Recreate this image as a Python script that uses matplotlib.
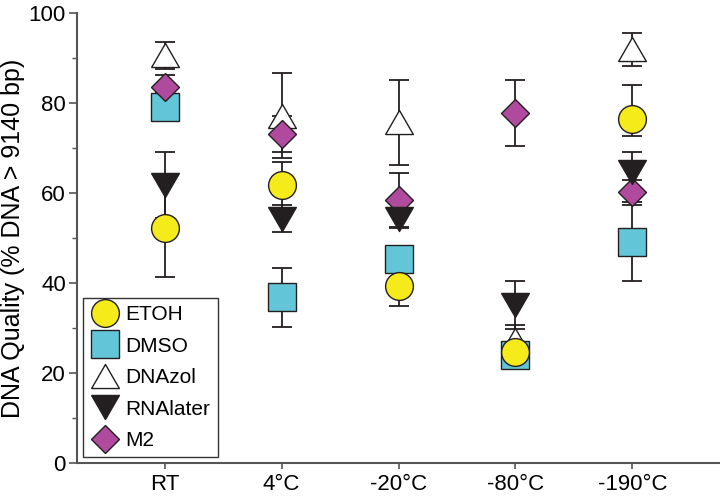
import matplotlib
matplotlib.use("Agg")
import matplotlib.pyplot as plt
from matplotlib.ticker import MultipleLocator

plt.rcParams['font.family'] = ['Liberation Sans', 'DejaVu Sans']

# 数据
conditions = ['RT', '4°C', '-20°C', '-80°C', '-190°C']

etoh = [52.2, 61.8, 39.3, 24.7, 76.6]
etoh_lo = [10.9, 5.1, 4.4, 2.0, 3.9]
etoh_hi = [10.9, 5.1, 4.4, 2.0, 7.4]

dmso = [79.3, 36.9, 45.4, 24.0, 49.2]
dmso_err = [3.0, 6.6, 3.0, 2.0, 8.8]

dnazol = [90.7, 77.3, 75.8, 27.3, 92.0]
dnazol_err = [3.0, 9.4, 9.5, 3.4, 3.7]

rnalater = [61.8, 54.4, 54.4, 35.1, 64.7]
rnalater_err = [7.3, 3.0, 2.0, 5.3, 4.4]

m2 = [83.7, 73.1, 58.6, 77.9, 60.2]
m2_err = [2.5, 4.0, 6.0, 7.4, 2.7]

x = list(range(1, len(conditions) + 1))

# 等边三角形
tri_up = [(-1, -0.866), (1, -0.866), (0, 0.866), (-1, -0.866)]
tri_down = [(-1, 0.866), (1, 0.866), (0, -0.866), (-1, 0.866)]

edge = '#231f20'
series = [
    ('ETOH', etoh, [etoh_lo, etoh_hi], 'o', '#f5ea1a', 20, 6),
    ('DMSO', dmso, dmso_err, 's', '#62c6d8', 20, 2),
    ('DNAzol', dnazol, dnazol_err, tri_up, 'white', 20, 3),
    ('RNAlater', rnalater, rnalater_err, tri_down, '#231f20', 20, 5),
    ('M2', m2, m2_err, 'D', '#b04a9f', 14, 4),
]

fig = plt.figure(figsize=(7.2, 4.97), dpi=100)
ax = fig.add_axes([0.107, 0.068, 0.893, 0.905])

for name, vals, err, mk, col, ms, z in series:
    ax.errorbar(x, vals, yerr=err, fmt='none', ecolor='#231f20',
                elinewidth=1.3, capsize=7, capthick=1.3, zorder=1)
    ax.plot(x, vals, linestyle='none', marker=mk, markersize=ms,
            markerfacecolor=col, markeredgecolor=edge, markeredgewidth=1.0,
            label=name, zorder=z)

ax.set_xlim(0.25, 5.75)
ax.set_ylim(0, 100)
ax.set_xticks(x)
ax.set_xticklabels(conditions)
ax.yaxis.set_major_locator(MultipleLocator(20))
ax.yaxis.set_minor_locator(MultipleLocator(10))

for s in ['top', 'right']:
    ax.spines[s].set_visible(False)
for s in ['left', 'bottom']:
    ax.spines[s].set_color('#555555')
    ax.spines[s].set_linewidth(1.5)

ax.tick_params(axis='both', which='major', labelsize=16, color='#555555',
               width=1.2, length=6, pad=2)
ax.tick_params(axis='x', which='major', length=4, pad=4)
ax.tick_params(axis='y', which='minor', color='#555555', width=1.0, length=3.5)

ax.set_ylabel('DNA Quality (% DNA > 9140 bp)', fontsize=18, labelpad=3)

leg = ax.legend(loc='lower left', bbox_to_anchor=(0.009, 0.013), fontsize=15,
                frameon=True, fancybox=False, edgecolor='black',
                handlelength=1.4, handletextpad=0.3, labelspacing=0.6,
                borderpad=0.35, borderaxespad=0, numpoints=1)
leg.get_frame().set_linewidth(1.0)

plt.savefig('out.png', dpi=100)
